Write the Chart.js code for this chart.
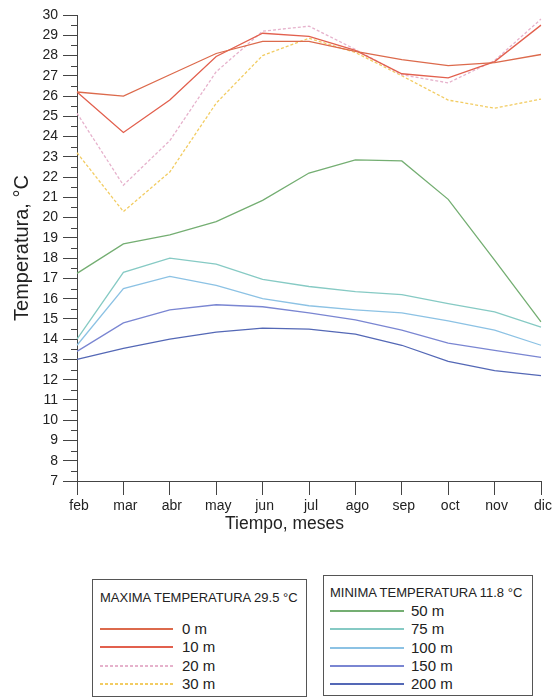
<!DOCTYPE html>
<html>
<head>
<meta charset="utf-8">
<script src="https://cdn.jsdelivr.net/npm/chart.js@4/dist/chart.umd.min.js"></script>
<style>
  body { margin: 0; background: #fff; font-family: "Liberation Sans", Arial, sans-serif; color: #222; }
  #wrap { position: relative; width: 554px; height: 700px; }
  #chartBox { position: absolute; left: 0; top: 0; width: 554px; height: 560px; }
  #xTitle { position: absolute; top: 513px; left: 225px; font-size: 17.5px; line-height: 21px; color: #222; white-space: nowrap; }
  .legendBox { position: absolute; border: 1px solid #555; box-sizing: border-box; }
  .legendBox .ttl { position: absolute; font-size: 13px; white-space: nowrap; }
  .legendBox .row { position: absolute; left: 0; width: 100%; height: 18px; }
  .legendBox .ln { position: absolute; top: 8px; height: 2px; }
  .legendBox .lbl { position: absolute; top: 0; font-size: 15px; line-height: 18px; white-space: nowrap; }
</style>
</head>
<body>
<div id="wrap">
  <div id="chartBox"><canvas id="lineChart"></canvas></div>
  <div id="xTitle">Tiempo, meses</div>
  <div id="boxMax" class="legendBox" style="left:92px;top:579px;width:215px;height:118px;">
    <div class="ttl" style="left:7px;top:10px;">MAXIMA TEMPERATURA 29.5 °C</div>
  </div>
  <div id="boxMin" class="legendBox" style="left:323px;top:575px;width:210px;height:121px;">
    <div class="ttl" style="left:6px;top:9px;">MINIMA TEMPERATURA 11.8 °C</div>
  </div>
</div>
<script>
// meses
const months = ["feb", "mar", "abr", "may", "jun", "jul", "ago", "sep", "oct", "nov", "dic"];

// maxima temperatura
const t0m = [26.2, 26.0, 27.05, 28.1, 28.7, 28.7, 28.2, 27.8, 27.5, 27.65, 28.05];
const t10m = [26.2, 24.2, 25.8, 27.95, 29.1, 28.95, 28.25, 27.1, 26.9, 27.7, 29.5];
const t20m = [25.15, 21.6, 23.8, 27.2, 29.2, 29.45, 28.3, 27.05, 26.65, 27.75, 29.8];
const t30m = [23.2, 20.3, 22.25, 25.65, 28.0, 28.85, 28.15, 27.0, 25.8, 25.4, 25.85];

// minima temperatura
const t50m = [17.25, 18.7, 19.15, 19.8, 20.85, 22.2, 22.85, 22.8, 20.9, 17.9, 14.85];
const t75m = [14.0, 17.3, 18.0, 17.7, 16.95, 16.6, 16.35, 16.2, 15.75, 15.35, 14.6];
const t100m = [13.7, 16.5, 17.1, 16.65, 16.0, 15.65, 15.45, 15.3, 14.9, 14.45, 13.7];
const t150m = [13.4, 14.8, 15.45, 15.7, 15.6, 15.3, 14.95, 14.45, 13.8, 13.45, 13.1];
const t200m = [13.0, 13.55, 14.0, 14.35, 14.55, 14.5, 14.25, 13.7, 12.9, 12.45, 12.2];

const yMin = 7;
const yMax = 30;

const maxSeries = [
  { label: "0 m", data: t0m, color: "#dc6a4c", dashed: false },
  { label: "10 m", data: t10m, color: "#e2604e", dashed: false },
  { label: "20 m", data: t20m, color: "#e6b2cc", dashed: true },
  { label: "30 m", data: t30m, color: "#f2cc62", dashed: true },
];
const minSeries = [
  { label: "50 m", data: t50m, color: "#74ae72", dashed: false },
  { label: "75 m", data: t75m, color: "#86cac4", dashed: false },
  { label: "100 m", data: t100m, color: "#8cc2e4", dashed: false },
  { label: "150 m", data: t150m, color: "#7a86d2", dashed: false },
  { label: "200 m", data: t200m, color: "#5468b6", dashed: false },
];

// leyendas en html
function buildLegend(boxId, series, firstTop, step, lineLeft, lineWidth, textLeft) {
  const box = document.getElementById(boxId);
  series.forEach((s, i) => {
    const row = document.createElement("div");
    row.className = "row";
    row.style.top = Math.round(firstTop + i * step) + "px";
    const ln = document.createElement("div");
    ln.className = "ln";
    ln.style.left = lineLeft + "px";
    ln.style.width = lineWidth + "px";
    if (s.dashed) {
      ln.style.background = "repeating-linear-gradient(to right, " + s.color + " 0px, " + s.color + " 3px, transparent 3px, transparent 5px)";
    } else {
      ln.style.background = s.color;
    }
    const lbl = document.createElement("div");
    lbl.className = "lbl";
    lbl.style.left = textLeft + "px";
    lbl.textContent = s.label;
    row.appendChild(ln);
    row.appendChild(lbl);
    box.appendChild(row);
  });
}
buildLegend("boxMax", maxSeries, 40, 18.4, 7, 73, 89);
buildLegend("boxMin", minSeries, 26, 18.3, 6, 74, 87);

// ticks menores del eje y (cada 0.5)
const minorTicks = {
  id: "minorTicks",
  afterDraw(chart) {
    const y = chart.scales.y;
    const ctx = chart.ctx;
    ctx.save();
    ctx.strokeStyle = "#444";
    ctx.lineWidth = 1;
    ctx.beginPath();
    for (let v = yMin + 0.5; v < yMax; v += 1) {
      const py = Math.round(y.getPixelForValue(v)) + 0.5;
      ctx.moveTo(y.right - 6, py);
      ctx.lineTo(y.right, py);
    }
    ctx.stroke();
    ctx.restore();
  },
};

const ctx = document.getElementById("lineChart").getContext("2d");
new Chart(ctx, {
  type: "line",
  data: {
    labels: months,
    datasets: maxSeries.concat(minSeries).map((s) => ({
      label: s.label,
      data: s.data,
      borderColor: s.color,
      borderWidth: 1.3,
      borderDash: s.dashed ? [3, 2] : [],
      pointRadius: 0,
      fill: false,
      tension: 0,
    })),
  },
  options: {
    responsive: true,
    maintainAspectRatio: false,
    animation: false,
    layout: { padding: { top: 15, right: 13, left: 0, bottom: 0 } },
    scales: {
      x: {
        offset: false,
        grid: {
          display: true,
          drawOnChartArea: false,
          drawTicks: true,
          tickLength: 14,
          color: "#444",
        },
        border: { display: true, color: "#444", width: 1 },
        ticks: {
          color: "#222",
          padding: 3,
          labelOffset: 2,
          maxRotation: 0,
          autoSkip: false,
          font: { family: "Liberation Sans", size: 14 },
        },
        afterFit: (scale) => {
          scale.height = 79;
        },
      },
      y: {
        min: yMin,
        max: yMax,
        grid: {
          display: true,
          drawOnChartArea: false,
          drawTicks: true,
          tickLength: 14,
          color: "#444",
        },
        border: { display: true, color: "#444", width: 1 },
        ticks: {
          stepSize: 1,
          color: "#222",
          padding: 5,
          font: { family: "Liberation Sans", size: 14 },
        },
        title: {
          display: true,
          text: "Temperatura, °C",
          color: "#222",
          padding: { top: 10, bottom: 4 },
          font: { family: "Liberation Sans", size: 20 },
        },
        afterFit: (scale) => {
          scale.width = 77;
        },
      },
    },
    plugins: {
      legend: { display: false },
      tooltip: { enabled: false },
    },
  },
  plugins: [minorTicks],
});
</script>
</body>
</html>
